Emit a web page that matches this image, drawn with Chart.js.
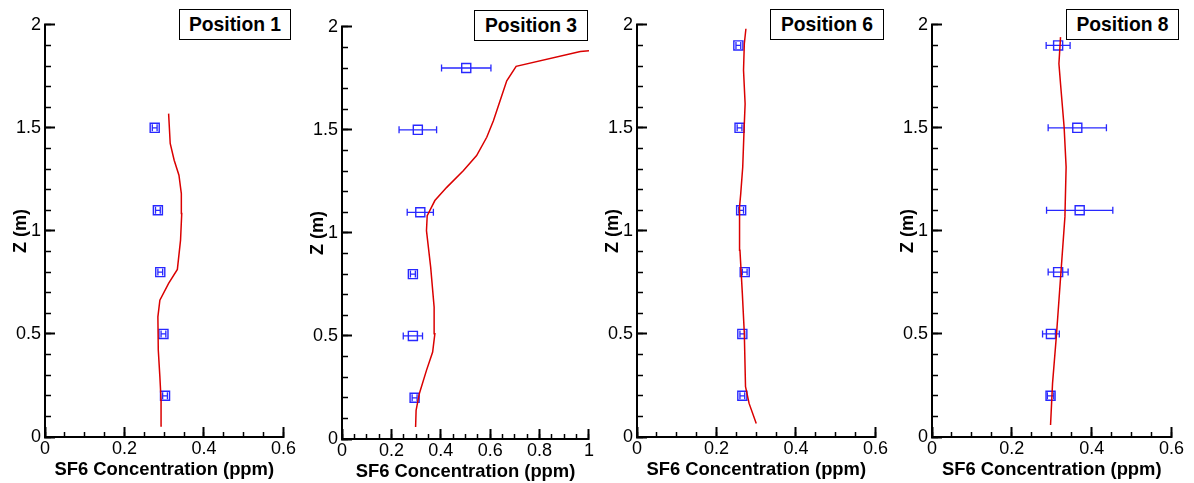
<!DOCTYPE html>
<html>
<head>
<meta charset="utf-8">
<script src="https://cdn.jsdelivr.net/npm/chart.js@4.4.1/dist/chart.umd.min.js"></script>
<style>
  html, body { margin: 0; padding: 0; background: #fff; }
  body { width: 1194px; height: 483px; overflow: hidden; position: relative; font-family: "Liberation Sans", Arial, sans-serif; }
  canvas { position: absolute; }
  .pos-box { position: absolute; box-sizing: border-box; border: 1px solid #000; background: #fff;
             font: bold 19.3px "Liberation Sans", Arial, sans-serif; color: #000;
             display: flex; align-items: center; justify-content: center; }
</style>
</head>
<body>
<script>
// ---------------- DATA ----------------
const panelTitles = ['Position 1', 'Position 3', 'Position 6', 'Position 8'];
const xAxisMax = [0.6, 1.0, 0.6, 0.6];
const xTitle = 'SF6 Concentration (ppm)';
const yTitle = 'Z (m)';

// Experiment (blue squares with horizontal error bars)
const expZ1 = [1.5, 1.1, 0.8, 0.5, 0.2];
const expC1 = [0.276, 0.284, 0.290, 0.298, 0.302];
const expE1 = [0.006, 0.006, 0.006, 0.006, 0.006];

const expZ3 = [1.8, 1.5, 1.1, 0.8, 0.5, 0.2];
const expC3 = [0.503, 0.307, 0.317, 0.287, 0.287, 0.294];
const expE3 = [0.100, 0.076, 0.053, 0.010, 0.039, 0.010];

const expZ6 = [1.9, 1.5, 1.1, 0.8, 0.5, 0.2];
const expC6 = [0.255, 0.258, 0.262, 0.271, 0.265, 0.265];
const expE6 = [0.006, 0.006, 0.006, 0.006, 0.006, 0.006];

const expZ8 = [1.9, 1.5, 1.1, 0.8, 0.5, 0.2];
const expC8 = [0.316, 0.364, 0.370, 0.316, 0.298, 0.297];
const expE8 = [0.030, 0.073, 0.083, 0.025, 0.021, 0.008];

// CFD (red profile line)
const cfdZ1 = [0.053, 0.179, 0.292, 0.422, 0.583, 0.664, 0.745, 0.813, 0.955, 1.084, 1.181, 1.270, 1.343, 1.424, 1.569];
const cfdC1 = [0.294, 0.292, 0.289, 0.285, 0.284, 0.289, 0.311, 0.333, 0.341, 0.344, 0.343, 0.337, 0.325, 0.315, 0.311];

const cfdZ3 = [0.058, 0.139, 0.220, 0.333, 0.422, 0.511, 0.640, 0.834, 1.011, 1.084, 1.157, 1.221, 1.302, 1.375, 1.464, 1.544, 1.641, 1.738, 1.808, 1.880, 1.884];
const cfdC3 = [0.298, 0.300, 0.313, 0.342, 0.367, 0.376, 0.373, 0.359, 0.342, 0.345, 0.376, 0.424, 0.491, 0.545, 0.586, 0.613, 0.640, 0.667, 0.705, 0.965, 1.000];

const cfdZ6 = [0.066, 0.163, 0.244, 0.502, 0.697, 0.906, 1.116, 1.181, 1.310, 1.472, 1.617, 1.779, 1.908, 1.981];
const cfdC6 = [0.300, 0.282, 0.273, 0.270, 0.265, 0.259, 0.258, 0.261, 0.266, 0.269, 0.272, 0.268, 0.270, 0.274];

const cfdZ8 = [0.058, 0.260, 0.500, 0.825, 1.068, 1.310, 1.504, 1.714, 1.811, 1.940];
const cfdC8 = [0.297, 0.302, 0.312, 0.324, 0.333, 0.336, 0.331, 0.322, 0.318, 0.322];

const yTickStep = 0.5, yMinorStep = 0.1, xTickStep = 0.2, xMinorStep = 0.05;

// ---------------- LAYOUT (not data) ----------------
const layouts = [
  { left: 0,   top: 0, width: 307, box: [179, 9, 112, 31] },
  { left: 297, top: 2, width: 308, box: [474, 10, 114, 31] },
  { left: 592, top: 0, width: 307, box: [770, 9, 114, 31] },
  { left: 887, top: 0, width: 308, box: [1066, 9, 113, 31] }
];
const panels = [
  { expZ: expZ1, expC: expC1, expE: expE1, cfdZ: cfdZ1, cfdC: cfdC1 },
  { expZ: expZ3, expC: expC3, expE: expE3, cfdZ: cfdZ3, cfdC: cfdC3 },
  { expZ: expZ6, expC: expC6, expE: expE6, cfdZ: cfdZ6, cfdC: cfdC6 },
  { expZ: expZ8, expC: expC8, expE: expE8, cfdZ: cfdZ8, cfdC: cfdC8 }
];

const FONT = '"Liberation Sans", Arial, sans-serif';
const RED = 'rgb(218,0,0)';
const BLUE = 'rgb(40,40,255)';
const fmt = v => String(Math.round(v * 100) / 100);

const errorBarPlugin = {
  id: 'errorBars',
  beforeDatasetsDraw(chart) {
    const ctx = chart.ctx;
    chart.data.datasets.forEach((ds, i) => {
      if (!ds.errors) return;
      const meta = chart.getDatasetMeta(i);
      const xs = chart.scales[meta.xAxisID], ys = chart.scales[meta.yAxisID];
      ctx.save();
      ctx.strokeStyle = ds.borderColor;
      ctx.lineWidth = 1.3;
      ds.data.forEach((p, j) => {
        const e = ds.errors[j];
        const x1 = xs.getPixelForValue(p.x - e);
        const x2 = xs.getPixelForValue(p.x + e);
        const y = ys.getPixelForValue(p.y);
        ctx.beginPath();
        ctx.moveTo(x1, y); ctx.lineTo(x2, y);
        ctx.moveTo(x1, y - 3.5); ctx.lineTo(x1, y + 3.5);
        ctx.moveTo(x2, y - 3.5); ctx.lineTo(x2, y + 3.5);
        ctx.stroke();
      });
      ctx.restore();
    });
  }
};

panels.forEach((p, k) => {
  const L = layouts[k];
  const cv = document.createElement('canvas');
  cv.width = L.width; cv.height = 483;
  cv.style.left = L.left + 'px'; cv.style.top = L.top + 'px';
  cv.style.width = L.width + 'px'; cv.style.height = '483px';
  document.body.appendChild(cv);

  const xMax = xAxisMax[k];
  new Chart(cv, {
    type: 'scatter',
    data: {
      datasets: [
        {
          type: 'line',
          data: p.cfdC.map((c, i) => ({ x: c, y: p.cfdZ[i] })),
          borderColor: RED, borderWidth: 1.5, pointRadius: 0, fill: false,
          tension: 0, order: 0, xAxisID: 'x', yAxisID: 'y'
        },
        {
          type: 'scatter',
          data: p.expC.map((c, i) => ({ x: c, y: p.expZ[i] })),
          errors: p.expE,
          pointStyle: 'rect', pointRadius: 6.4, borderColor: BLUE, borderWidth: 1.4,
          backgroundColor: 'rgba(0,0,0,0)', order: 1, xAxisID: 'x', yAxisID: 'y'
        }
      ]
    },
    options: {
      responsive: false, animation: false, devicePixelRatio: 1,
      layout: { padding: { left: 0, top: 24, right: 16, bottom: 0 } },
      plugins: { legend: { display: false }, tooltip: { enabled: false }, title: { display: false } },
      scales: {
        x: {
          type: 'linear', position: 'bottom', min: 0, max: xMax, weight: 1,
          ticks: { stepSize: xTickStep, autoSkip: false, maxRotation: 0, color: '#000',
                   font: { family: FONT, size: 18 }, padding: 11, callback: fmt },
          grid: { drawOnChartArea: false, tickLength: -10, tickColor: '#000', tickWidth: 2 },
          border: { color: '#000', width: 2 },
          title: { display: true, text: xTitle, color: '#000', font: { family: FONT, size: 18.4, weight: 'bold' },
                   padding: { top: 0, bottom: 2 } },
          afterFit: s => { s.height = 46; }
        },
        xMinor: {
          type: 'linear', position: 'bottom', min: 0, max: xMax, weight: 0,
          ticks: { display: false, stepSize: xMinorStep, autoSkip: false },
          grid: { drawOnChartArea: false, tickLength: -5, tickColor: '#000', tickWidth: 1.5 },
          border: { display: false },
          afterFit: s => { s.height = 0; }
        },
        y: {
          type: 'linear', position: 'left', min: 0, max: 2, weight: 1,
          ticks: { stepSize: yTickStep, autoSkip: false, color: '#000',
                   font: { family: FONT, size: 18 }, padding: 14, callback: fmt },
          grid: { drawOnChartArea: false, tickLength: -10, tickColor: '#000', tickWidth: 2 },
          border: { color: '#000', width: 2 },
          title: { display: true, text: yTitle, color: '#000', font: { family: FONT, size: 18, weight: 'bold' },
                   padding: { top: 10.5, bottom: 0 } },
          afterFit: s => { s.width = 45; }
        },
        yMinor: {
          type: 'linear', position: 'left', min: 0, max: 2, weight: 0,
          ticks: { display: false, stepSize: yMinorStep, autoSkip: false },
          grid: { drawOnChartArea: false, tickLength: -6, tickColor: '#000', tickWidth: 1.5 },
          border: { display: false },
          afterFit: s => { s.width = 0; }
        }
      }
    },
    plugins: [errorBarPlugin]
  });

  const box = document.createElement('div');
  box.className = 'pos-box';
  box.style.left = L.box[0] + 'px'; box.style.top = L.box[1] + 'px';
  box.style.width = L.box[2] + 'px'; box.style.height = L.box[3] + 'px';
  box.textContent = panelTitles[k];
  document.body.appendChild(box);
});
</script>
</body>
</html>
